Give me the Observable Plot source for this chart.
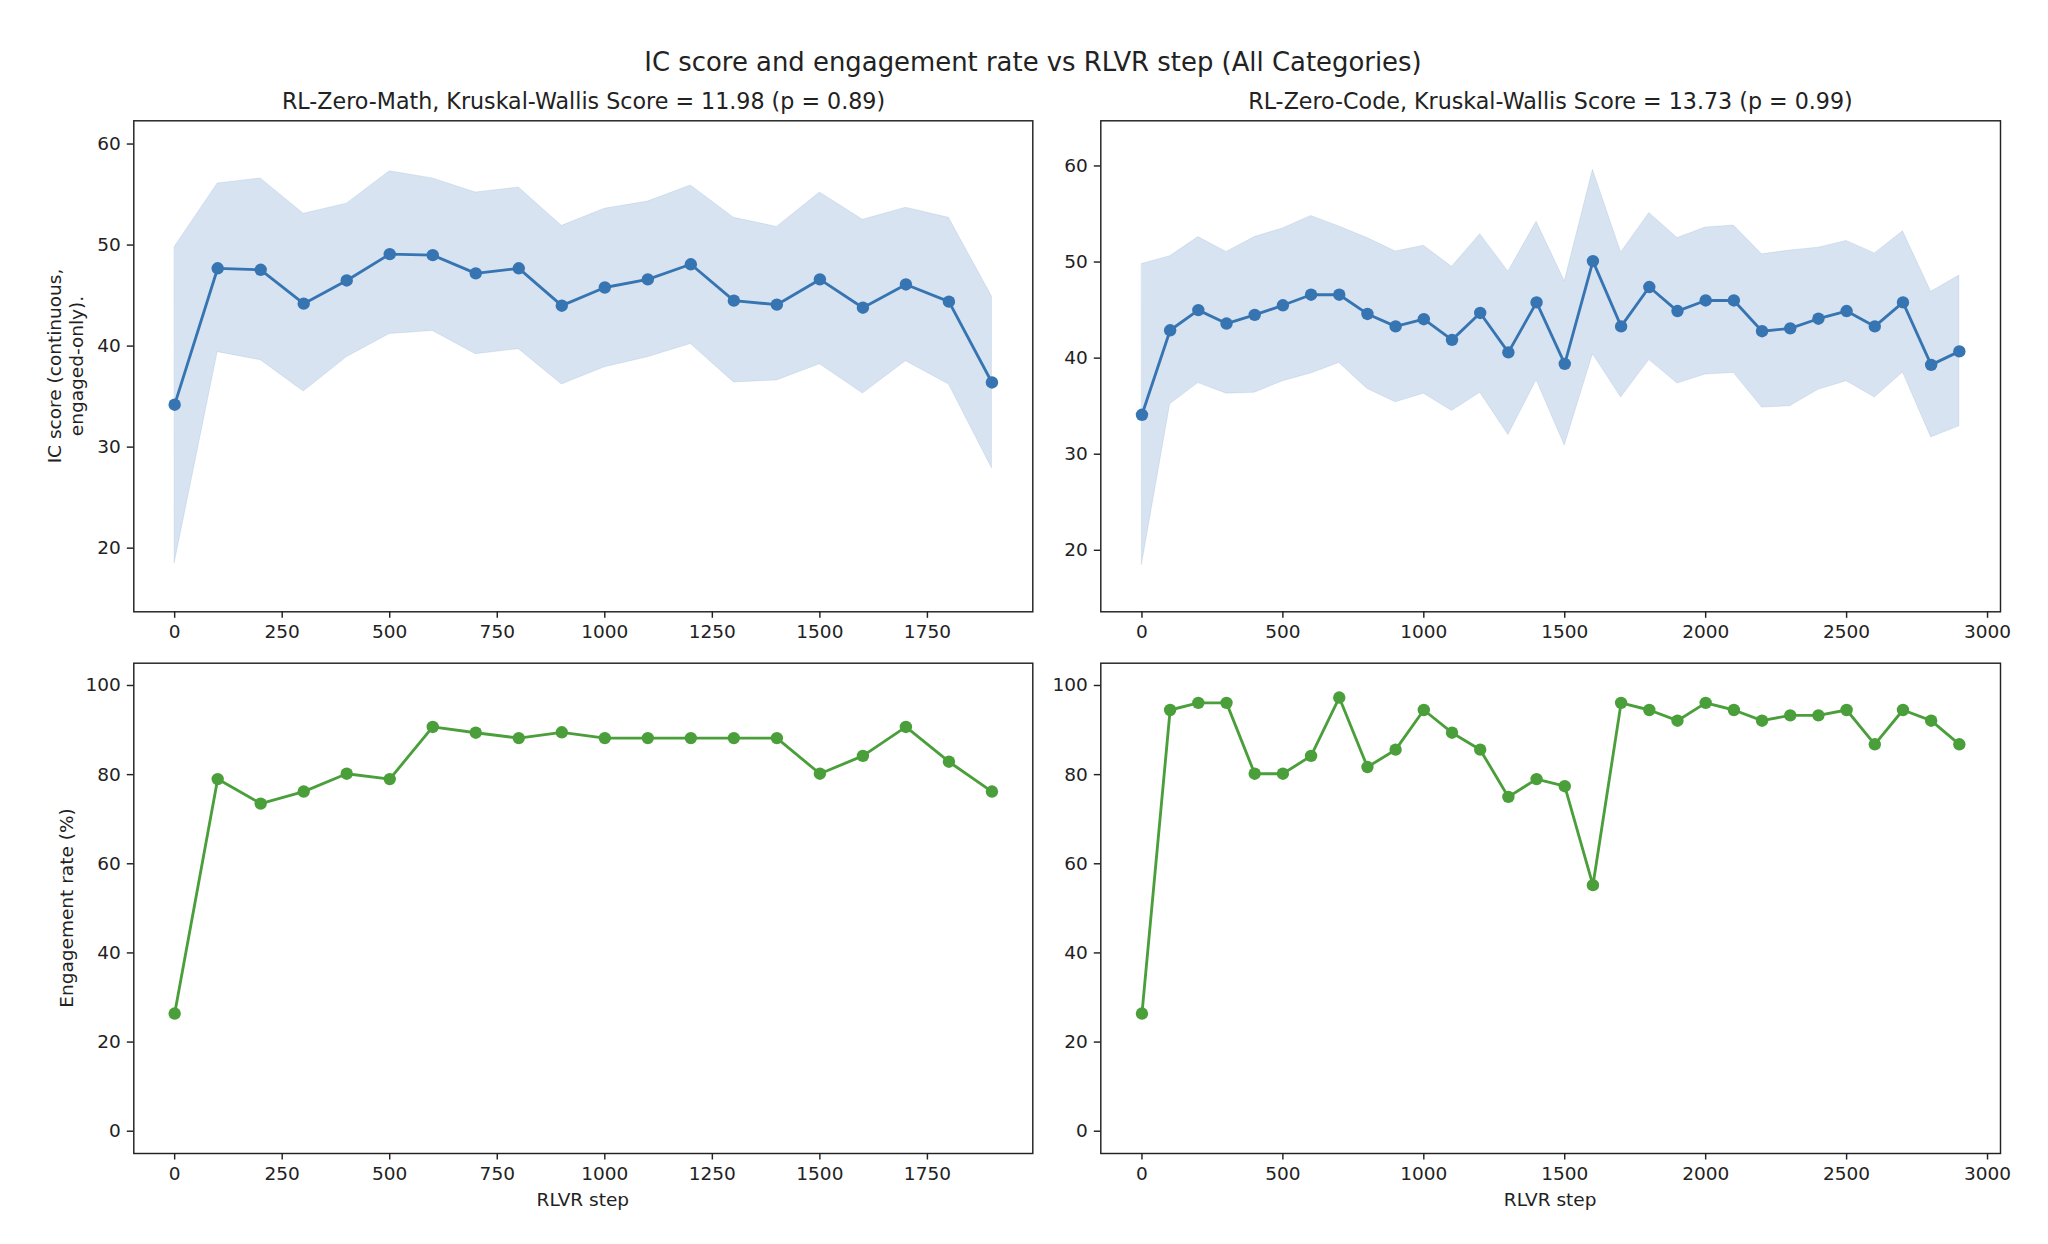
<!DOCTYPE html>
<html>
<head>
<meta charset="utf-8">
<script src="https://cdn.jsdelivr.net/npm/d3@7"></script>
<script src="https://cdn.jsdelivr.net/npm/@observablehq/plot@0.6"></script>
<style>
  html, body { margin: 0; padding: 0; background: #ffffff; }
  #fig { position: relative; width: 2048px; height: 1244px; background: #ffffff; font-family: "DejaVu Sans", sans-serif; color: #222; overflow: hidden; }
  .txt { position: absolute; white-space: nowrap; line-height: 1; color: #222; }
  .panel { position: absolute; }
</style>
</head>
<body>
<div id="fig"></div>
<script>
// ---------------- data ----------------
const suptitle = "IC score and engagement rate vs RLVR step (All Categories)";
const mathTitle = "RL-Zero-Math, Kruskal-Wallis Score = 11.98 (p = 0.89)";
const codeTitle = "RL-Zero-Code, Kruskal-Wallis Score = 13.73 (p = 0.99)";
const icLabel = "IC score (continuous,\nengaged-only).";
const engLabel = "Engagement rate (%)";
const xLabel = "RLVR step";

const mathSteps = [0,100,200,300,400,500,600,700,800,900,1000,1100,1200,1300,1400,1500,1600,1700,1800,1900];
const mathIcMean  = [34.2,47.7,47.55,44.2,46.5,49.1,49.0,47.2,47.7,44.0,45.8,46.6,48.1,44.5,44.1,46.6,43.8,46.1,44.4,36.4];
const mathIcUpper = [49.8,56.1,56.6,53.1,54.1,57.3,56.6,55.2,55.7,51.9,53.6,54.3,55.9,52.7,51.8,55.2,52.5,53.7,52.7,44.9];
const mathIcLower = [18.5,39.4,38.6,35.5,38.9,41.2,41.5,39.2,39.7,36.2,37.9,38.9,40.2,36.4,36.6,38.2,35.3,38.5,36.2,27.9];
const mathEng     = [26.4,79.0,73.5,76.2,80.2,79.0,90.7,89.4,88.2,89.5,88.2,88.2,88.2,88.2,88.2,80.2,84.2,90.7,82.9,76.2];

const codeSteps = [0,100,200,300,400,500,600,700,800,900,1000,1100,1200,1300,1400,1500,1600,1700,1800,1900,2000,2100,2200,2300,2400,2500,2600,2700,2800,2900];
const codeIcMean  = [34.1,42.9,45.0,43.6,44.5,45.5,46.6,46.6,44.6,43.3,44.05,41.9,44.7,40.6,45.8,39.4,50.1,43.3,47.4,44.9,46.0,46.0,42.8,43.1,44.1,44.9,43.3,45.8,39.3,40.7];
const codeIcUpper = [49.8,50.6,52.6,51.05,52.6,53.5,54.8,53.7,52.5,51.1,51.7,49.5,52.9,49.0,54.2,48.0,59.6,51.0,55.1,52.5,53.6,53.8,50.8,51.2,51.5,52.2,50.9,53.2,46.9,48.6];
const codeIcLower = [18.5,35.2,37.4,36.3,36.4,37.6,38.4,39.5,36.8,35.4,36.3,34.5,36.4,32.0,37.7,30.9,40.4,35.9,39.8,37.35,38.3,38.45,34.85,35.0,36.7,37.6,35.9,38.5,31.75,32.9];
const codeEng     = [26.4,94.5,96.1,96.1,80.2,80.2,84.2,97.3,81.7,85.6,94.5,89.4,85.6,75.0,79.0,77.4,55.2,96.1,94.5,92.1,96.1,94.5,92.1,93.3,93.3,94.5,86.8,94.5,92.1,86.8];

const mathXTicks = [0,250,500,750,1000,1250,1500,1750];
const codeXTicks = [0,500,1000,1500,2000,2500,3000];
const icYTicks = [20,30,40,50,60];
const engYTicks = [0,20,40,60,80,100];

// ---------------- style ----------------
const BLUE = "#3674b2";
const GREEN = "#4a9f3b";
const INK = "#222222";
const TICK_FS = 18.5, TITLE_FS = 22.2, SUP_FS = 25.9;

const fig = document.getElementById("fig");

function rows(steps, mean, upper, lower) {
  return steps.map((s, i) => ({step: s, mean: mean[i], upper: upper ? upper[i] : null, lower: lower ? lower[i] : null}));
}

function panel({data, band, color, xDomain, xTicks, yDomain, yTicks, left, top, width, height, mL, mR, mT, mB}) {
  const marks = [];
  if (band) marks.push(Plot.areaY(data, {x: "step", y1: "lower", y2: "upper", fill: color, fillOpacity: 0.2, stroke: color, strokeOpacity: 0.12, strokeWidth: 1}));
  marks.push(Plot.line(data, {x: "step", y: "mean", stroke: color, strokeWidth: 2.85}));
  marks.push(Plot.dot(data, {x: "step", y: "mean", r: 6.2, fill: color, stroke: "none"}));
  marks.push(Plot.frame({stroke: INK, strokeWidth: 1.45}));
  marks.push(Plot.axisX({ticks: xTicks, tickSize: 6.5, tickPadding: 6.5, tickFormat: d3.format("d"), label: null, stroke: INK, strokeWidth: 1.45}));
  marks.push(Plot.axisY({ticks: yTicks, tickSize: 6.5, tickPadding: 6.5, tickFormat: d3.format("d"), label: null, stroke: INK, strokeWidth: 1.45}));
  const svg = Plot.plot({
    width, height,
    marginLeft: mL, marginRight: mR, marginTop: mT, marginBottom: mB,
    style: {fontFamily: "DejaVu Sans", fontSize: TICK_FS + "px", color: INK, background: "transparent", overflow: "visible", maxWidth: "none"},
    x: {domain: xDomain},
    y: {domain: yDomain},
    marks
  });
  const wrap = document.createElement("div");
  wrap.className = "panel";
  wrap.style.left = left + "px";
  wrap.style.top = top + "px";
  wrap.style.width = width + "px";
  wrap.style.height = height + "px";
  wrap.appendChild(svg);
  fig.appendChild(wrap);
}

// frames (figure px): left column x 133.3–1032.3, right column x 1100.3–2000
// top row y 120.3–611.3, bottom row y 662.7–1153
panel({data: rows(mathSteps, mathIcMean, mathIcUpper, mathIcLower), band: true, color: BLUE,
  xDomain: [-95, 1995], xTicks: mathXTicks, yDomain: [13.7, 62.3], yTicks: icYTicks,
  left: 0, top: 110, width: 1066, height: 530, mL: 133.3, mR: 33.7, mT: 10.3, mB: 28.7});
panel({data: rows(codeSteps, codeIcMean, codeIcUpper, codeIcLower), band: true, color: BLUE,
  xDomain: [-146, 3046], xTicks: codeXTicks, yDomain: [13.6, 64.7], yTicks: icYTicks,
  left: 1066, top: 110, width: 982, height: 530, mL: 34.3, mR: 48, mT: 10.3, mB: 28.7});
panel({data: rows(mathSteps, mathEng), band: false, color: GREEN,
  xDomain: [-95, 1995], xTicks: mathXTicks, yDomain: [-5, 105], yTicks: engYTicks,
  left: 0, top: 640, width: 1066, height: 604, mL: 133.3, mR: 33.7, mT: 22.7, mB: 91});
panel({data: rows(codeSteps, codeEng), band: false, color: GREEN,
  xDomain: [-146, 3046], xTicks: codeXTicks, yDomain: [-5, 105], yTicks: engYTicks,
  left: 1066, top: 640, width: 982, height: 604, mL: 34.3, mR: 48, mT: 22.7, mB: 91});

// ---------------- texts ----------------
function addText(str, {cx, top, fs, rotate = false, cy = null, lh = 1}) {
  const d = document.createElement("div");
  d.className = "txt";
  d.style.fontSize = fs + "px";
  if (rotate) {
    d.style.left = cx + "px";
    d.style.top = cy + "px";
    d.style.lineHeight = lh;
    d.style.textAlign = "center";
    d.style.whiteSpace = "pre";
    d.style.transform = "translate(-50%, -50%) rotate(-90deg)";
  } else {
    d.style.left = cx + "px";
    d.style.top = top + "px";
    d.style.transform = "translateX(-50%)";
  }
  d.textContent = str;
  fig.appendChild(d);
}

addText(suptitle, {cx: 1033, top: 49.6, fs: SUP_FS});
addText(mathTitle, {cx: 583.5, top: 90.2, fs: TITLE_FS});
addText(codeTitle, {cx: 1550.5, top: 90.2, fs: TITLE_FS});
addText(xLabel, {cx: 582.8, top: 1191, fs: TICK_FS});
addText(xLabel, {cx: 1550.15, top: 1191, fs: TICK_FS});
addText(icLabel, {cx: 66, cy: 365.8, fs: TICK_FS, rotate: true, lh: "22px"});
addText(engLabel, {cx: 67, cy: 907.9, fs: TICK_FS, rotate: true});
</script>
</body>
</html>
